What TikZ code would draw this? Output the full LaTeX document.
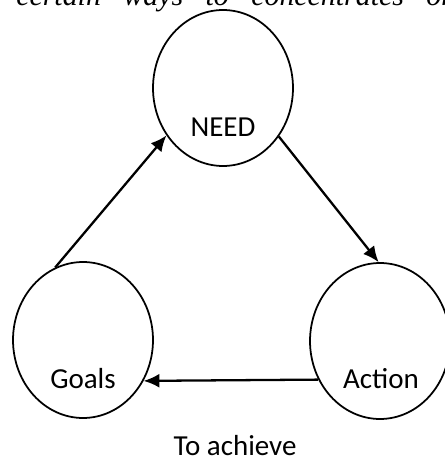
\documentclass[tikz,border=0pt]{standalone}
\usepackage{fontspec}
\setmainfont{Carlito}
\newfontfamily\bodyfont{Liberation Serif}
\usetikzlibrary{positioning,shapes,arrows.meta}

\tikzset{
  bubble/.style={ellipse, draw, line width=1pt, minimum width=2.8cm, minimum height=3.12cm, inner sep=0pt},
  word/.style={anchor=base, font=\fontsize{16.5}{20}\selectfont, text=black},
  flow/.style={line width=1.3pt, -{Latex[length=9pt,width=8pt]}}
}

\begin{document}
\begin{tikzpicture}[x=0.02cm, y=-0.02cm]
    \useasboundingbox (0,0) rectangle (445,459);
    \clip (0,0) rectangle (445,459);
    \fill[white] (0,0) rectangle (445,459);

    % last line of the running text above
    \node[anchor=base west, inner sep=0pt] (line) at (16,5.5)
      {\bodyfont\itshape\fontsize{17}{20}\selectfont\makebox[8.8cm][s]{certain\hfill ways\hfill to\hfill concentrates\hfill on}};

    \node[bubble] (need)  at (223,88)  {};
    \node[bubble] (act)   at (380,341) {};
    \node[bubble] (goals) at (83,340)  {};

    \node[word] (needtxt)  at (223,136.5) {NEED};
    \node[word] (acttxt)   at (381,388)   {Action};
    \node[word] (goalstxt) at (83,388)    {Goals};
    \node[word] (achieve)  at (235,455)   {To achieve};

    \draw[flow] (goals.111) -- (need.220);
    \draw[flow] (need.319) -- (act.91);
    \draw[flow] (act.212.8) -- (goals.326.6);
  \end{tikzpicture}
\end{document}
